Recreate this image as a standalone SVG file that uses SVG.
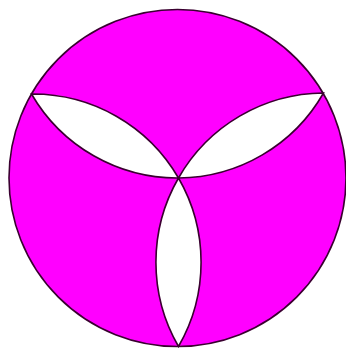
<svg xmlns="http://www.w3.org/2000/svg" width="346" height="349" viewBox="0 0 346 349">
<style>
.disc{fill:#ff00ff;stroke:#3a0030;stroke-width:1.6}
.petal{fill:#ffffff;stroke:#3a0030;stroke-width:1.6;stroke-linejoin:miter}
</style>
<rect width="346" height="349" fill="#ffffff"/>
<g id="disc"><circle class="disc" cx="177.5" cy="178" r="168.5"/></g>
<g id="petals">
<path id="petal-left" class="petal" d="M178.5 178 A168.5 168.5 0 0 0 31.5 94 A168.5 168.5 0 0 0 178.5 178 Z"/>
<path id="petal-right" class="petal" d="M178.5 178 A168.5 168.5 0 0 0 323.5 93 A168.5 168.5 0 0 0 178.5 178 Z"/>
<path id="petal-bottom" class="petal" d="M178.5 178 A168.5 168.5 0 0 0 178.5 346.5 A168.5 168.5 0 0 0 178.5 178 Z"/>
</g>
</svg>
